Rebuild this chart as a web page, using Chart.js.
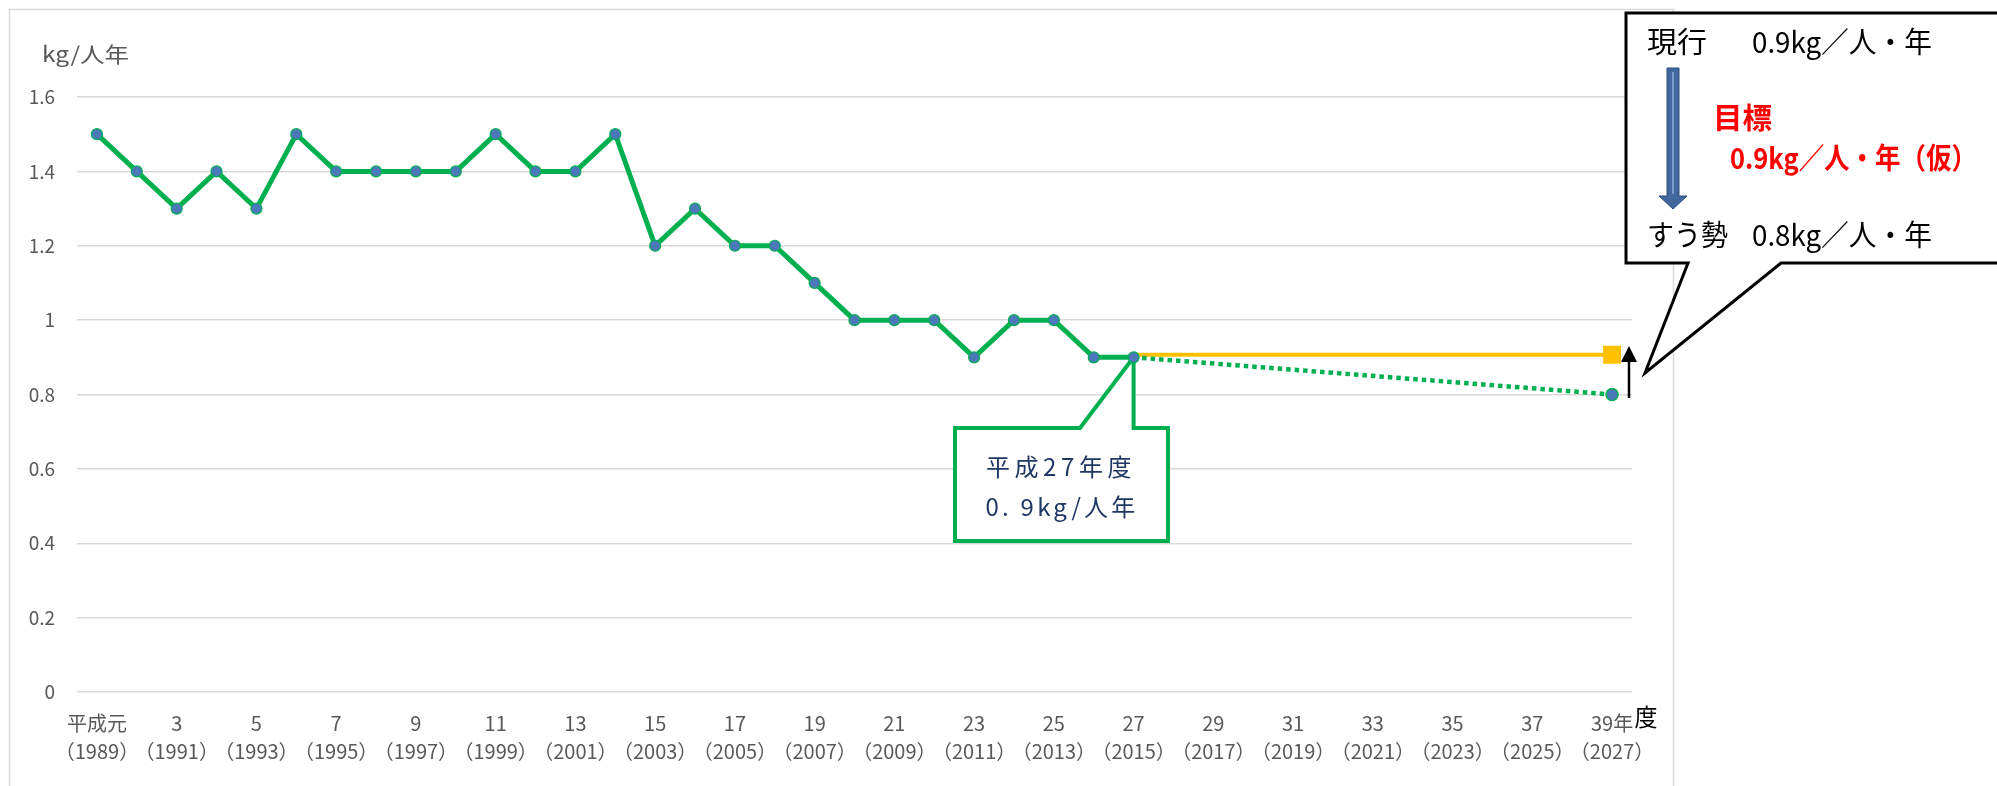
<!DOCTYPE html>
<html><head><meta charset="utf-8">
<script src="https://cdn.jsdelivr.net/npm/chart.js@4.4.1/dist/chart.umd.min.js"></script>
<style>html,body{margin:0;padding:0;background:#fff;overflow:hidden}canvas{display:block}</style>
</head><body>
<canvas id="c" width="1997" height="786"></canvas>
<script>
// categories: fiscal years 平成元(1989) .. 平成39(2027)
const categories = ['1989','1990','1991','1992','1993','1994','1995','1996','1997','1998','1999','2000','2001','2002','2003','2004','2005','2006','2007','2008','2009','2010','2011','2012','2013','2014','2015','2016','2017','2018','2019','2020','2021','2022','2023','2024','2025','2026','2027'];
// tick labels (shown on every other category)
const eraTickLabels = ['平成元','3','5','7','9','11','13','15','17','19','21','23','25','27','29','31','33','35','37','39年'];
const yearTickLabels = ['（1989）','（1991）','（1993）','（1995）','（1997）','（1999）','（2001）','（2003）','（2005）','（2007）','（2009）','（2011）','（2013）','（2015）','（2017）','（2019）','（2021）','（2023）','（2025）','（2027）'];
const yTickValues = [0, 0.2, 0.4, 0.6, 0.8, 1.0, 1.2, 1.4, 1.6];
const yTickLabels = ['0','0.2','0.4','0.6','0.8','1','1.2','1.4','1.6'];
// actual values 1989..2015 (kg/人年)
const actualValues = [1.5,1.4,1.3,1.4,1.3,1.5,1.4,1.4,1.4,1.4,1.5,1.4,1.4,1.5,1.2,1.3,1.2,1.2,1.1,1.0,1.0,1.0,0.9,1.0,1.0,0.9,0.9];
// trend (すう勢) 2015 -> 2027
const trendYears = ['2015','2027'];
const trendValues = [0.9, 0.8];
// target (目標) 2015 -> 2027
const targetYears = ['2015','2027'];
const targetValues = [0.907, 0.907];

const GREEN = '#00B050', BLUE_PT = '#4A78B9', YELLOW = '#FFC000', GRAY = '#595959';
const JP = '"Noto Sans CJK JP", "Noto Sans", sans-serif';

function fitText(ctx, text, x, y, font, color, width, align, spacing) {
  ctx.save();
  ctx.font = font; ctx.fillStyle = color; ctx.textBaseline = 'middle'; ctx.textAlign = 'left';
  const w = ctx.measureText(text).width;
  const left = align === 'center' ? x - width / 2 : x;
  if (spacing && 'letterSpacing' in ctx) {
    const n = [...text].length;
    ctx.letterSpacing = ((width - w) / n) + 'px';
    ctx.fillText(text, left, y);
  } else {
    ctx.translate(left, y); ctx.scale(width / w, 1); ctx.fillText(text, 0, 0);
  }
  ctx.restore();
}

const decor = {
  id: 'decor',
  beforeDraw(chart) {
    const ctx = chart.ctx;
    ctx.save();
    ctx.fillStyle = '#fff'; ctx.fillRect(0, 0, chart.width, chart.height);
    ctx.strokeStyle = '#D9D9D9'; ctx.lineWidth = 1.5;
    ctx.strokeRect(9.5, 9.5, 1664, 800);
    ctx.restore();
  },
  beforeDatasetsDraw(chart) {
    const ctx = chart.ctx;
    const xs = chart.scales.x, ys = chart.scales.y;
    const tx = xs.getPixelForValue(26), ty = ys.getPixelForValue(actualValues[26]);
    ctx.save();
    ctx.beginPath();
    ctx.moveTo(955, 428); ctx.lineTo(1080, 428); ctx.lineTo(tx, ty); ctx.lineTo(tx, 428);
    ctx.lineTo(1168, 428); ctx.lineTo(1168, 541); ctx.lineTo(955, 541); ctx.closePath();
    ctx.fillStyle = '#fff'; ctx.fill();
    ctx.strokeStyle = GREEN; ctx.lineWidth = 4; ctx.lineJoin = 'miter'; ctx.stroke();
    ctx.restore();
    fitText(ctx, '平成27年度', 1061, 467, '24px ' + JP, '#1F3864', 150, 'center', true);
    fitText(ctx, '0. 9kg/人年', 1062, 507, '24px ' + JP, '#1F3864', 153, 'center', true);
  },
  afterDraw(chart) {
    const ctx = chart.ctx;
    // axis title
    fitText(ctx, 'kg/人年', 42, 54, '21px ' + JP, GRAY, 87, 'left');
    // 度
    fitText(ctx, '度', 1646, 717, '24px ' + JP, '#000', 23, 'center');
    // small up arrow
    ctx.save();
    ctx.strokeStyle = '#000'; ctx.fillStyle = '#000'; ctx.lineWidth = 2.5;
    ctx.beginPath(); ctx.moveTo(1629, 398); ctx.lineTo(1629, 358); ctx.stroke();
    ctx.beginPath(); ctx.moveTo(1629, 346); ctx.lineTo(1637, 362); ctx.lineTo(1621, 362); ctx.closePath(); ctx.fill();
    // black callout
    ctx.beginPath();
    ctx.moveTo(1626, 13); ctx.lineTo(2005, 13); ctx.lineTo(2005, 263); ctx.lineTo(1781, 263);
    ctx.lineTo(1645, 373); ctx.lineTo(1688, 263); ctx.lineTo(1626, 263); ctx.closePath();
    ctx.fillStyle = '#fff'; ctx.fill();
    ctx.strokeStyle = '#000'; ctx.lineWidth = 3; ctx.lineJoin = 'miter'; ctx.stroke();
    // blue arrow
    ctx.beginPath();
    ctx.moveTo(1667, 68); ctx.lineTo(1679, 68); ctx.lineTo(1679, 196); ctx.lineTo(1687, 196);
    ctx.lineTo(1673, 209); ctx.lineTo(1659, 196); ctx.lineTo(1667, 196); ctx.closePath();
    ctx.fillStyle = '#41679C'; ctx.fill();
    ctx.strokeStyle = '#2F4E7E'; ctx.lineWidth = 1; ctx.stroke();
    ctx.fillStyle = '#7A9CCB'; ctx.fillRect(1672, 72, 2, 122);
    ctx.restore();
    // texts
    fitText(ctx, '現行', 1647, 42, '29px ' + JP, '#000', 60, 'left');
    fitText(ctx, '0.9kg／人・年', 1752, 42, '29px ' + JP, '#000', 180, 'left');
    fitText(ctx, '目標', 1713, 118, 'bold 29px ' + JP, '#FF0000', 59, 'left');
    fitText(ctx, '0.9kg／人・年（仮）', 1730, 158, 'bold 29px ' + JP, '#FF0000', 247, 'left');
    fitText(ctx, 'すう勢', 1647, 235, '29px ' + JP, '#000', 81, 'left');
    fitText(ctx, '0.8kg／人・年', 1752, 235, '29px ' + JP, '#000', 180, 'left');
  }
};

new Chart(document.getElementById('c'), {
  type: 'line',
  data: {
    labels: categories,
    datasets: [
      {
        label: '実績', data: actualValues,
        borderColor: GREEN, borderWidth: 5, backgroundColor: BLUE_PT,
        pointRadius: 5.5, pointBorderColor: GREEN, pointBorderWidth: 1.2,
        pointBackgroundColor: BLUE_PT, tension: 0, fill: false, order: 0
      },
      {
        label: 'すう勢', data: trendYears.map((y, i) => ({x: y, y: trendValues[i]})),
        borderColor: GREEN, borderWidth: 4.5, borderDash: [4.5, 4],
        pointRadius: c => c.dataIndex === trendValues.length - 1 ? 6 : 0,
        pointBorderColor: GREEN, pointBorderWidth: 1.5, pointBackgroundColor: BLUE_PT,
        tension: 0, fill: false, order: 1
      },
      {
        label: '目標', data: targetYears.map((y, i) => ({x: y, y: targetValues[i]})),
        borderColor: YELLOW, borderWidth: 4,
        pointStyle: 'rect',
        pointRadius: c => c.dataIndex === targetValues.length - 1 ? 12.7 : 0,
        pointBorderWidth: 0, pointBackgroundColor: YELLOW, pointBorderColor: YELLOW,
        tension: 0, fill: false, order: 2
      }
    ]
  },
  options: {
    responsive: false, animation: false, devicePixelRatio: 1,
    layout: { padding: { left: 0, top: 97, right: 365, bottom: 0 } },
    plugins: { legend: { display: false }, tooltip: { enabled: false } },
    scales: {
      x: {
        type: 'category', offset: true,
        grid: { display: false, drawTicks: false },
        border: { display: false },
        afterFit(s) { s.height = 94; },
        ticks: {
          autoSkip: false, maxRotation: 0, minRotation: 0, padding: 17,
          color: GRAY, font: { family: JP, size: 20, lineHeight: 1.4 },
          callback: (v, i) => i % 2 === 0 ? [eraTickLabels[i / 2], yearTickLabels[i / 2]] : ''
        }
      },
      y: {
        min: 0, max: 1.6,
        afterFit(s) { s.width = 77; },
        afterBuildTicks(s) { s.ticks = yTickValues.map(v => ({value: v})); },
        grid: { color: '#D9D9D9', lineWidth: 1.5, drawTicks: false },
        border: { display: false },
        ticks: {
          padding: 22, color: GRAY, font: { family: JP, size: 19 },
          callback: v => yTickLabels[yTickValues.findIndex(t => Math.abs(t - v) < 1e-6)]
        }
      }
    }
  },
  plugins: [decor]
});
</script>
</body></html>
